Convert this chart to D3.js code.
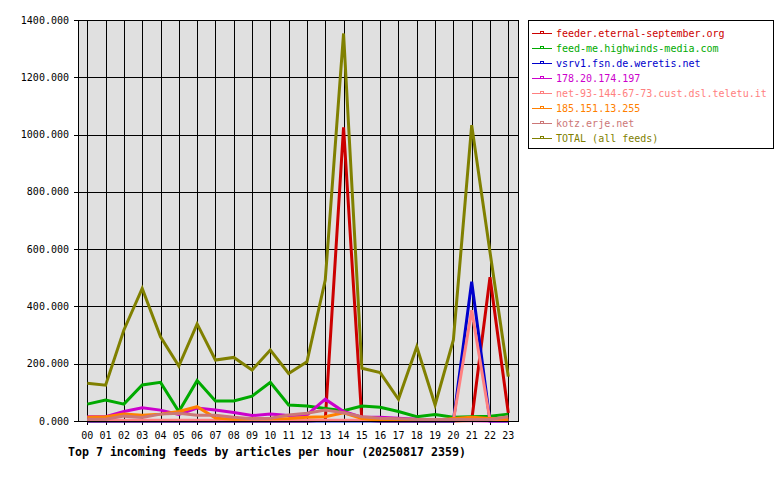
<!DOCTYPE html>
<html>
<head>
<meta charset="utf-8">
<script src="https://cdn.jsdelivr.net/npm/d3@7"></script>
<style>
  body { margin: 0; background: #fff; }
  text { font-family: "DejaVu Sans Mono", monospace; }
</style>
</head>
<body>
<script>
// hours on the x axis
var hours = ["00","01","02","03","04","05","06","07","08","09","10","11",
             "12","13","14","15","16","17","18","19","20","21","22","23"];
var yTicks = [0, 200, 400, 600, 800, 1000, 1200, 1400];

var feedNames = [
  "feeder.eternal-september.org",
  "feed-me.highwinds-media.com",
  "vsrv1.fsn.de.weretis.net",
  "178.20.174.197",
  "net-93-144-67-73.cust.dsl.teletu.it",
  "185.151.13.255",
  "kotz.erje.net",
  "TOTAL (all feeds)"
];
var feedColors = ["#cc0000", "#00aa00", "#0000cc", "#cc00cc", "#ff8080", "#ff8000", "#cc7777", "#808000"];

// articles per hour
var eternal   = [0,0,0,0,0,0,0,0,0,0,0,0, 0,3,1025,3,0,0,0,0, 0,2,502,28];
var highwinds = [59,73,59,126,135,33,141,70,70,87,135,56, 52,44,36,52,48,33,15,23, 13,15,17,24];
var weretis   = [0,0,0,0,0,0,0,0,0,0,0,0, 0,0,0,0,0,0,0,0, 0,486,0,0];
var ip178     = [15,15,33,46,38,23,45,38,30,19,24,19, 21,76,33,13,13,10,6,5, 3,1,0,0];
var teletu    = [3,3,3,3,3,3,3,3,3,3,3,3, 3,3,3,3,3,3,3,3, 2,387,2,2];
var ip185     = [13,15,24,20,24,33,50,10,6,8,8,9, 13,15,29,9,3,3,3,3, 9,13,9,5];
var kotz      = [6,6,17,12,24,27,20,20,13,8,10,21, 27,38,29,15,10,8,5,5, 5,5,5,15];
var total     = [132,125,318,463,294,192,339,213,222,178,248,166, 207,492,1353,184,169,76,259,56, 283,1033,590,155];

var series = [eternal, highwinds, weretis, ip178, teletu, ip185, kotz, total];

var title = "Top 7 incoming feeds by articles per hour (20250817 2359)";

var W = 780, H = 480;
var plot = {left: 78, top: 20, right: 518, bottom: 421};

var svg = d3.select("body").append("svg")
    .attr("width", W)
    .attr("height", H);

var x = d3.scalePoint()
    .domain(hours)
    .range([87.3, 508.3]);

var y = d3.scaleLinear()
    .domain([0, 1400])
    .range([plot.bottom, plot.top]);

// plot background
svg.append("rect")
    .attr("x", plot.left).attr("y", plot.top)
    .attr("width", plot.right - plot.left)
    .attr("height", plot.bottom - plot.top)
    .attr("fill", "#e0e0e0");

// grid
var grid = svg.append("g").attr("stroke", "black").attr("stroke-width", 1)
    .attr("shape-rendering", "crispEdges");
grid.selectAll("line.v")
    .data(hours)
    .enter().append("line")
    .attr("class", "v")
    .attr("x1", function(d){ return Math.round(x(d)) + 0.5; })
    .attr("x2", function(d){ return Math.round(x(d)) + 0.5; })
    .attr("y1", plot.top).attr("y2", plot.bottom + 4);
grid.selectAll("line.h")
    .data(yTicks)
    .enter().append("line")
    .attr("class", "h")
    .attr("y1", function(d){ return Math.round(y(d)) + 0.5; })
    .attr("y2", function(d){ return Math.round(y(d)) + 0.5; })
    .attr("x1", plot.left - 4).attr("x2", plot.right);

// data lines, drawn in legend order
var line = d3.line()
    .x(function(d, i){ return x(hours[i]); })
    .y(function(d){ return y(d); });

svg.append("g")
    .selectAll("path")
    .data(series)
    .enter().append("path")
    .attr("d", line)
    .attr("fill", "none")
    .attr("stroke", function(d, i){ return feedColors[i]; })
    .attr("stroke-width", 3)
    .attr("stroke-linejoin", "miter");

// frame
svg.append("rect")
    .attr("x", plot.left + 0.5).attr("y", plot.top + 0.5)
    .attr("width", plot.right - plot.left)
    .attr("height", plot.bottom - plot.top)
    .attr("fill", "none")
    .attr("stroke", "black")
    .attr("stroke-width", 1.5)
    .attr("shape-rendering", "crispEdges");

// y labels
svg.append("g")
    .selectAll("text")
    .data(yTicks)
    .enter().append("text")
    .attr("x", 69)
    .attr("y", function(d){ return y(d); })
    .attr("dy", "0.35em")
    .attr("text-anchor", "end")
    .attr("font-size", "10px")
    .text(function(d){ return d3.format(".3f")(d); });

// x labels
svg.append("g")
    .selectAll("text")
    .data(hours)
    .enter().append("text")
    .attr("x", function(d){ return x(d); })
    .attr("y", 439)
    .attr("text-anchor", "middle")
    .attr("font-size", "10px")
    .text(function(d){ return d; });

svg.append("text")
    .attr("x", 68)
    .attr("y", 456)
    .attr("font-size", "11.6px")
    .attr("font-weight", "bold")
    .text(title);

// legend
var leg = svg.append("g");
leg.append("rect")
    .attr("x", 528.5).attr("y", 20.5)
    .attr("width", 245).attr("height", 128)
    .attr("fill", "white")
    .attr("stroke", "black")
    .attr("stroke-width", 1);

var items = leg.selectAll("g.item")
    .data(feedNames)
    .enter().append("g")
    .attr("class", "item")
    .attr("transform", function(d, i){ return "translate(0," + (33 + i * 15) + ")"; });

items.append("line")
    .attr("x1", 532).attr("x2", 552)
    .attr("y1", 0.5).attr("y2", 0.5)
    .attr("stroke", function(d, i){ return feedColors[i]; })
    .attr("stroke-width", 1);
items.append("rect")
    .attr("x", 540.5).attr("y", -1.5)
    .attr("width", 3).attr("height", 2)
    .attr("fill", "none")
    .attr("stroke", function(d, i){ return feedColors[i]; })
    .attr("stroke-width", 1);
items.append("text")
    .attr("x", 556)
    .attr("y", 0)
    .attr("dy", "0.35em")
    .attr("font-size", "10px")
    .attr("fill", function(d, i){ return feedColors[i]; })
    .text(function(d){ return d; });
</script>
</body>
</html>
